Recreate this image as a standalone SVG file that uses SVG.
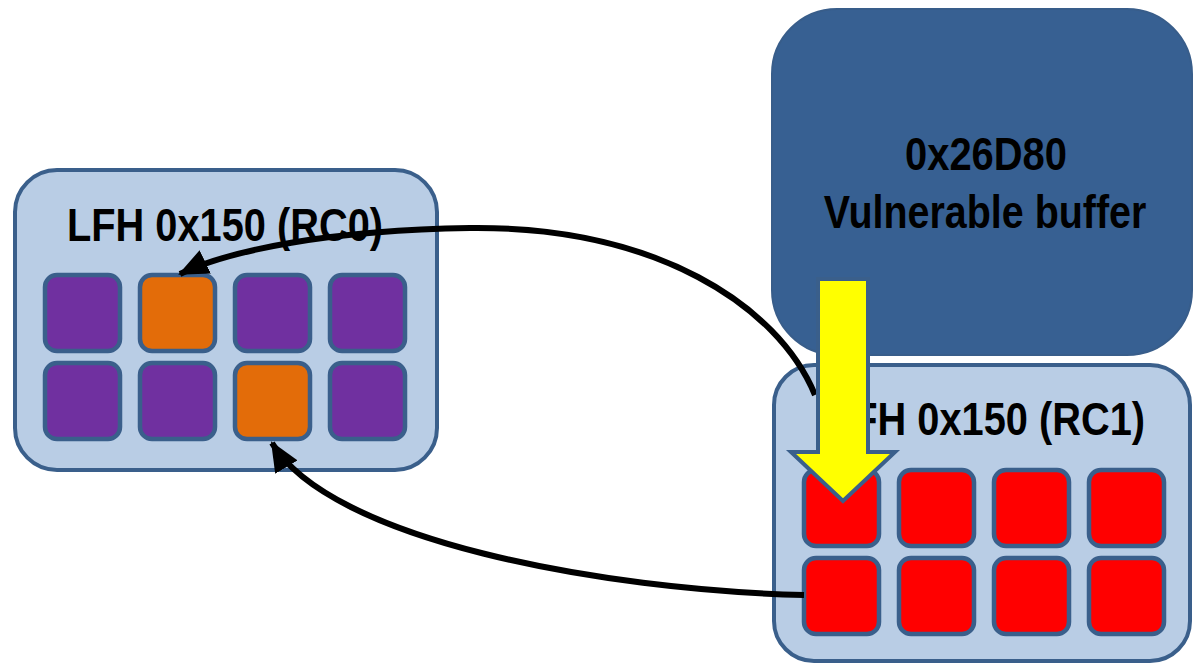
<svg xmlns="http://www.w3.org/2000/svg" width="1193" height="665" viewBox="0 0 1193 665">
<style>
.cont{fill:#b9cde5;stroke:#3a5f8b;stroke-width:4}
.cell{stroke:#3a5f8b;stroke-width:4.5}
.p{fill:#7030a0}.o{fill:#e36c09}.r{fill:#ff0000}
.lbl{font-family:"Liberation Sans Narrow","Liberation Sans",Arial,sans-serif;font-weight:bold;font-size:46px;fill:#000}
.conn{fill:none;stroke:#000;stroke-width:6}
</style>
<defs>
<marker id="ah" markerUnits="userSpaceOnUse" markerWidth="30" markerHeight="26" viewBox="0 0 30 26" refX="28" refY="13" orient="auto">
<path d="M0,0 L30,13 L0,26 Z" fill="#000"/>
</marker>
</defs>
<rect width="1193" height="665" fill="#fff"/>
<g id="lfh-rc0">
<rect class="cont" x="15" y="170" width="422" height="300" rx="42"/>
<text class="lbl" x="67" y="241" textLength="316" lengthAdjust="spacingAndGlyphs">LFH 0x150 (RC0)</text>
<rect class="cell p" x="45" y="275" width="75" height="76" rx="12"/>
<rect class="cell o" x="140" y="275" width="75" height="76" rx="12"/>
<rect class="cell p" x="235" y="275" width="75" height="76" rx="12"/>
<rect class="cell p" x="330" y="275" width="75" height="76" rx="12"/>
<rect class="cell p" x="45" y="363" width="75" height="76" rx="12"/>
<rect class="cell p" x="140" y="363" width="75" height="76" rx="12"/>
<rect class="cell o" x="235" y="363" width="75" height="76" rx="12"/>
<rect class="cell p" x="330" y="363" width="75" height="76" rx="12"/>
</g>
<g id="vuln-buffer">
<rect x="772" y="9" width="420" height="346" rx="65" fill="#376092" stroke="#385d8a" stroke-width="2"/>
<text class="lbl" x="986" y="170" text-anchor="middle" textLength="162" lengthAdjust="spacingAndGlyphs">0x26D80</text>
<text class="lbl" transform="translate(985,228) scale(0.857,1)" x="0" y="0" text-anchor="middle">Vulnerable buffer</text>
</g>
<g id="lfh-rc1">
<rect class="cont" x="774" y="365" width="416" height="296" rx="40"/>
<text class="lbl" x="829" y="435" textLength="316" lengthAdjust="spacingAndGlyphs">LFH 0x150 (RC1)</text>
<rect class="cell r" x="804" y="470" width="75" height="76" rx="12"/>
<rect class="cell r" x="899" y="470" width="75" height="76" rx="12"/>
<rect class="cell r" x="994" y="470" width="75" height="76" rx="12"/>
<rect class="cell r" x="1089" y="470" width="75" height="76" rx="12"/>
<rect class="cell r" x="804" y="558" width="75" height="76" rx="12"/>
<rect class="cell r" x="899" y="558" width="75" height="76" rx="12"/>
<rect class="cell r" x="994" y="558" width="75" height="76" rx="12"/>
<rect class="cell r" x="1089" y="558" width="75" height="76" rx="12"/>
</g>
<g id="connectors">
<path class="conn" d="M815,395 C778,305 655,226 470,228 C330,230 230,250 180,274" marker-end="url(#ah)"/>
<path class="conn" d="M804,595 C600,590 330,540 272,443" marker-end="url(#ah)"/>
</g>
<g id="overflow-arrow">
<polygon points="818,279 868,279 868,452 895,452 843,501 791,452 818,452" fill="#ffff00" stroke="#3a5f8b" stroke-width="4"/>
</g>
</svg>
